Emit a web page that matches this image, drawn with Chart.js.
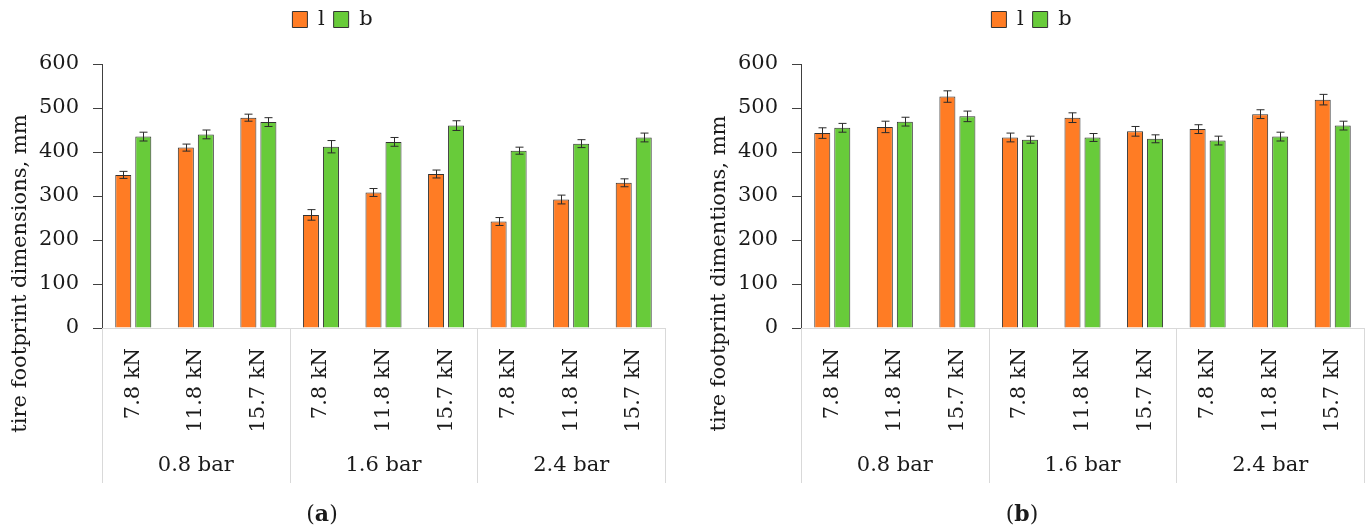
<!DOCTYPE html>
<html>
<head>
<meta charset="utf-8">
<script src="https://cdn.jsdelivr.net/npm/chart.js@4.4.1/dist/chart.umd.min.js"></script>
<style>
  html, body { margin: 0; padding: 0; background: #ffffff; }
  body { width: 1368px; height: 527px; position: relative; overflow: hidden;
         font-family: "DejaVu Serif", serif; }
  .panel { position: absolute; top: 0; height: 527px; }
  .caption { position: absolute; top: 500px; font-size: 22px; color: #1a1a1a;
             transform: translateX(-50%); white-space: nowrap; }
</style>
</head>
<body>
<div class="panel" style="left:0; width:670px;"><canvas id="chartA"></canvas></div>
<div class="panel" style="left:699px; width:669px;"><canvas id="chartB"></canvas></div>
<div class="caption" style="left:322px;">(<b>a</b>)</div>
<div class="caption" style="left:1022px;">(<b>b</b>)</div>

<script>
// Categories: wheel load inside each inflation pressure group
const loads = ['7.8 kN', '11.8 kN', '15.7 kN', '7.8 kN', '11.8 kN', '15.7 kN', '7.8 kN', '11.8 kN', '15.7 kN'];
const pressures = ['0.8 bar', '1.6 bar', '2.4 bar'];
const seriesNames = ['l', 'b'];
const yTicks = [0, 100, 200, 300, 400, 500, 600];

// Panel (a): footprint length l and width b, mm, with standard deviations
const lengthA    = [348, 410, 478, 257, 308, 350, 242, 292, 330];
const lengthErrA = [8, 8, 8, 12, 9, 9, 9, 10, 9];
const widthA     = [435, 440, 468, 412, 423, 460, 403, 419, 433];
const widthErrA  = [10, 10, 10, 14, 10, 11, 8, 9, 10];

// Panel (b)
const lengthB    = [443, 457, 526, 433, 478, 447, 452, 486, 519];
const lengthErrB = [12, 13, 13, 10, 11, 11, 10, 10, 12];
const widthB     = [455, 469, 481, 428, 433, 430, 426, 435, 460];
const widthErrB  = [10, 10, 12, 8, 9, 9, 10, 10, 10];

const FONT = "'DejaVu Serif', serif";
const SIZE = 21;
const TEXT = '#1a1a1a';
const ORANGE = '#FF7C24';
const GREEN = '#68CB3A';
const EDGE = '#333333';

// Whisker lines drawn from each dataset's `errors` array
const errorBars = {
  id: 'errorBars',
  afterDatasetsDraw(chart) {
    const ctx = chart.ctx;
    const y = chart.scales.y;
    ctx.save();
    ctx.strokeStyle = '#2b2b2b';
    ctx.lineWidth = 1;
    chart.data.datasets.forEach((ds, i) => {
      const meta = chart.getDatasetMeta(i);
      meta.data.forEach((bar, j) => {
        const v = ds.data[j], e = ds.errors[j];
        const x = Math.round(bar.x) + 0.5;
        const y1 = y.getPixelForValue(v + e);
        const y2 = y.getPixelForValue(v - e);
        ctx.beginPath();
        ctx.moveTo(x, y1); ctx.lineTo(x, y2);
        ctx.moveTo(x - 4, y1); ctx.lineTo(x + 4, y1);
        ctx.moveTo(x - 4, y2); ctx.lineTo(x + 4, y2);
        ctx.stroke();
      });
    });
    ctx.restore();
  }
};

// Second category level (pressure groups with separator lines) and the value-axis title
const groupAxis = {
  id: 'groupAxis',
  afterDraw(chart, args, opts) {
    const ctx = chart.ctx;
    const x = chart.scales.x;
    const y = chart.scales.y;
    const step = x.getPixelForValue(1) - x.getPixelForValue(0);
    const per = loads.length / pressures.length;
    ctx.save();
    ctx.strokeStyle = '#d9d9d9';
    ctx.lineWidth = 1;
    for (let g = 0; g <= pressures.length; g++) {
      const px = Math.round(x.getPixelForValue(g * per) - step / 2) + 0.5;
      ctx.beginPath();
      ctx.moveTo(px, x.top);
      ctx.lineTo(px, x.bottom);
      ctx.stroke();
    }
    ctx.fillStyle = TEXT;
    ctx.font = SIZE + 'px ' + FONT;
    ctx.textAlign = 'center';
    ctx.textBaseline = 'middle';
    pressures.forEach((p, g) => {
      const cx = (x.getPixelForValue(g * per) + x.getPixelForValue(g * per + per - 1)) / 2;
      ctx.fillText(p, cx, x.bottom - 17);
    });
    // axis title centred on the plot plus its category labels
    ctx.translate(y.left + 21, (y.top + x.bottom) / 2);
    ctx.rotate(-Math.PI / 2);
    ctx.fillText(opts.title, 0, 0);
    ctx.restore();
  }
};

// Fixed legend band height so the plot starts at the same place in both panels
const legendBand = {
  id: 'legendBand',
  beforeUpdate(chart) {
    const lg = chart.legend;
    if (lg && !lg._bandFixed) {
      const fit = lg.fit;
      lg.fit = function () { fit.call(this); this.height = 64; };
      lg._bandFixed = true;
    }
  }
};

function makeChart(id, yTitle, lengths, lengthErr, widths, widthErr, rightPad) {
  return new Chart(document.getElementById(id), {
    type: 'bar',
    data: {
      labels: loads,
      datasets: [
        { label: seriesNames[0], data: lengths, errors: lengthErr,
          backgroundColor: ORANGE, borderColor: EDGE, borderWidth: 1,
          barPercentage: 0.8, categoryPercentage: 0.64 },
        { label: seriesNames[1], data: widths, errors: widthErr,
          backgroundColor: GREEN, borderColor: EDGE, borderWidth: 1,
          barPercentage: 0.8, categoryPercentage: 0.64 }
      ]
    },
    options: {
      responsive: true,
      maintainAspectRatio: false,
      animation: false,
      layout: { padding: { top: 0, left: 0, right: rightPad, bottom: 44 } },
      plugins: {
        legend: {
          position: 'top',
          labels: { boxWidth: 15, boxHeight: 16, padding: 9, color: TEXT,
                    font: { family: FONT, size: SIZE } }
        },
        tooltip: { enabled: false },
        groupAxis: { title: yTitle }
      },
      scales: {
        x: {
          grid: { display: false },
          border: { display: true, color: '#d9d9d9' },
          ticks: { minRotation: 90, maxRotation: 90, autoSkip: false, padding: 12,
                   color: TEXT, font: { family: FONT, size: SIZE } },
          afterFit(s) { s.height = 155; s.paddingLeft = 0; s.paddingRight = 0; }
        },
        y: {
          min: 0, max: 600,
          afterBuildTicks(s) { s.ticks = yTicks.map(v => ({ value: v })); },
          grid: { display: true, drawOnChartArea: false, tickLength: 9, color: '#404040' },
          border: { display: true, color: '#404040' },
          ticks: { padding: 14, color: TEXT, font: { family: FONT, size: SIZE } },
          afterFit(s) { s.width = 102; }
        }
      }
    },
    plugins: [legendBand, errorBars, groupAxis]
  });
}

makeChart('chartA', 'tire footprint dimensions, mm', lengthA, lengthErrA, widthA, widthErrA, 5);
makeChart('chartB', 'tire footprint dimentions, mm', lengthB, lengthErrB, widthB, widthErrB, 4);
</script>
</body>
</html>
